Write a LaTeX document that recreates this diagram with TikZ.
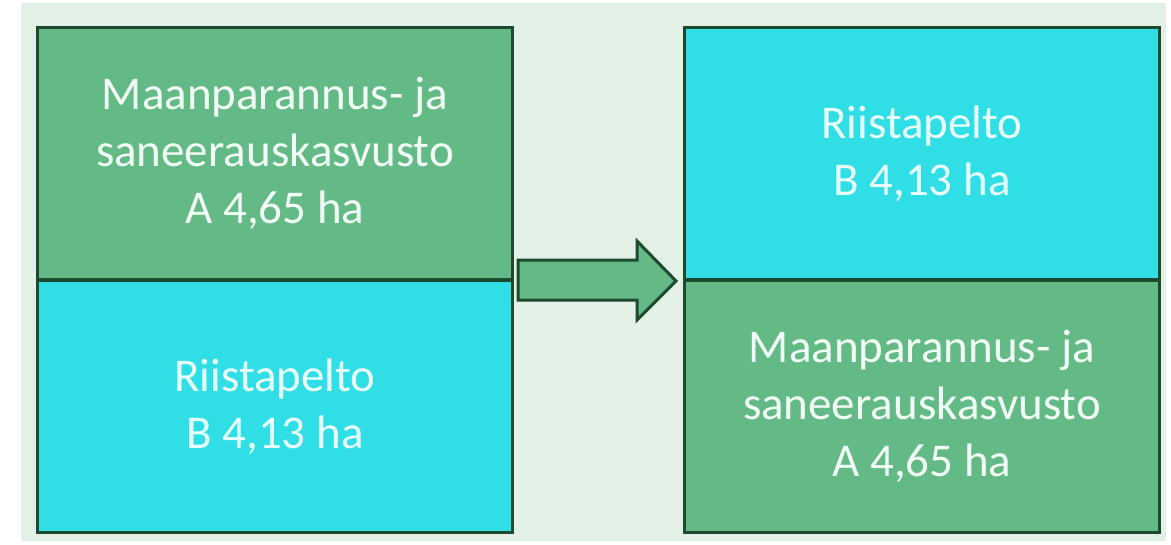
\documentclass[tikz,border=0pt]{standalone}
\usepackage{fontspec}
\setmainfont{Carlito}
\definecolor{bgc}{HTML}{E2F0E6}
\definecolor{grn}{HTML}{63BA86}
\definecolor{cyn}{HTML}{30DEE6}
\definecolor{edge}{HTML}{1D4A2E}
\definecolor{txtg}{HTML}{F2FFF4}
\definecolor{txtc}{HTML}{E8FFFF}
\tikzset{
  field/.style={draw=edge, line width=3pt, minimum width=475pt, minimum height=252pt, inner sep=0pt, anchor=north west, align=center, font=\fontsize{47}{57}\selectfont},
  greenfield/.style={field, fill=grn, text=txtg},
  cyanfield/.style={field, fill=cyn, text=txtc},
}
\begin{document}
\begin{tikzpicture}[x=1pt,y=-1pt]
\useasboundingbox (0,0) rectangle (1171,544);
\fill[white] (0,0) rectangle (1171,544);
\fill[bgc] (21,3) rectangle (1166,541);
\node[greenfield] (la) at (36,26) {Maanparannus- ja\\saneerauskasvusto\\A 4,65 ha};
\node[cyanfield] (lb) at (36,279) {Riistapelto\\B 4,13 ha};
\node[cyanfield] (rb) at (683,26) {Riistapelto\\B 4,13 ha};
\node[greenfield] (ra) at (683,279) {Maanparannus- ja\\saneerauskasvusto\\A 4,65 ha};
\draw[edge, line width=3pt, fill=grn, line join=miter]
  (518,260) -- (637,260) -- (637,241) -- (676,281) -- (637,320) -- (637,300) -- (518,300) -- cycle;
\end{tikzpicture}
\end{document}
